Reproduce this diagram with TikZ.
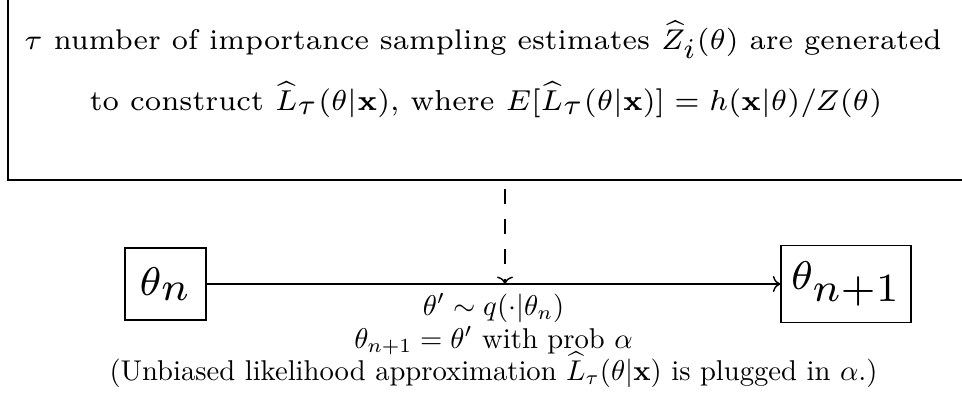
\documentclass[tikz,border=0pt]{standalone}
\usepackage{amsmath,amssymb,graphicx}
\usetikzlibrary{arrows.meta}
\DeclareMathSizes{7}{7}{7}{7}
\tikzset{
  tip/.style={-{Computer Modern Rightarrow[length=2.6pt,width=5.6pt]}},
  topbox/.style={draw, line width=0.7pt, inner sep=0pt},
  statebox/.style={draw, line width=0.5pt, inner sep=0pt},
  conn/.style={line width=0.5pt, tip},
  dconn/.style={line width=0.5pt, tip, dash pattern=on 5.24pt off 5.24pt, dash phase=7.7pt},
  toptext/.style={anchor=base, inner sep=0pt},
  labtext/.style={anchor=base, inner sep=0pt},
}
\begin{document}
\begin{tikzpicture}[x=0.3494pt,y=-0.3494pt]
\useasboundingbox (0,0) rectangle (962,403);
\clip (0,0) rectangle (962,403);
% top box (partly outside the picture)
\node[topbox, minimum width=347.3pt, minimum height=69.9pt] (top) at (505,80) {};
\node[toptext] (l1) at (483,49) {\scalebox{1.424}{\scriptsize $\tau$ number of importance sampling estimates $\widehat{Z}_i(\theta)$ are generated}};
\node[toptext] (l2) at (486,110) {\scalebox{1.44}{\scriptsize to construct $\widehat{L}_\tau(\theta|\mathbf{x})$, where $E[\widehat{L}_\tau(\theta|\mathbf{x})]=h(\mathbf{x}|\theta)/Z(\theta)$}};
% states
\node[statebox, minimum width=28.3pt, minimum height=25.2pt] (tn) at (165.5,284) {\scalebox{2}{\scriptsize $\theta_n$}};
\node[statebox, minimum width=45.4pt, minimum height=26.9pt] (tn1) at (846,284) {\scalebox{2}{\scriptsize $\theta_{n+1}$}};
\draw[conn] (tn) -- (tn1) coordinate[pos=0.5] (mid);
\coordinate (hit) at (top.south |- tn);
\draw[dconn] (top.south) -- (hit);
\path (mid) ++(0,31) node[labtext] (q1) {$\theta' \sim q(\cdot|\theta_n)$};
\path (mid) ++(0,64) node[labtext] (q2) {$\theta_{n+1}=\theta'$ with prob $\alpha$};
\path (mid) ++(0,96) node[labtext] (q3) {(Unbiased likelihood approximation $\widehat{L}_\tau(\theta|\mathbf{x})$ is plugged in $\alpha$.)};
\end{tikzpicture}
\end{document}
